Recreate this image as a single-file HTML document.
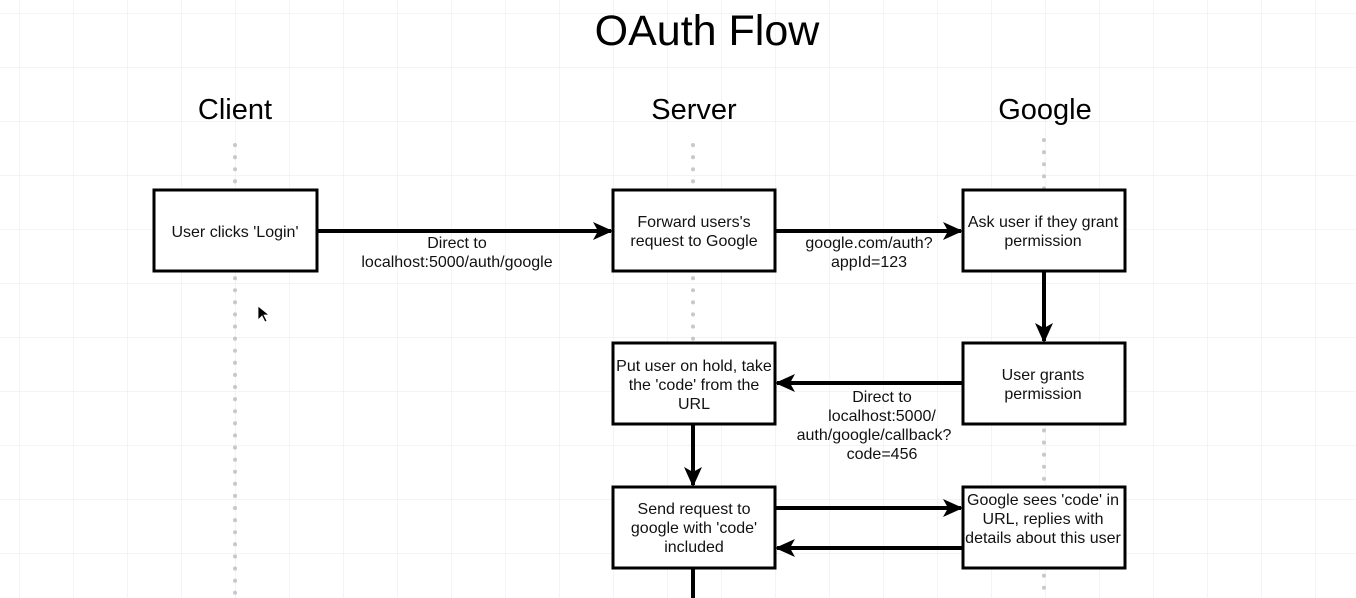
<!DOCTYPE html>
<html><head><style>
html,body{margin:0;padding:0;background:#fff;}
svg{display:block;font-family:"Liberation Sans",Arial,sans-serif;}
</style></head><body>
<svg width="1356" height="598" viewBox="0 0 1356 598" xmlns="http://www.w3.org/2000/svg">
<defs>
<pattern id="g" x="19" y="13" width="54" height="54" patternUnits="userSpaceOnUse">
<path d="M0 0H54M0 0V54" stroke="#e8e8e8" stroke-width="1" fill="none"/>
</pattern>
<marker id="A" viewBox="0 0 20 20" markerWidth="20" markerHeight="20" refX="18" refY="10" orient="auto" markerUnits="userSpaceOnUse">
<path d="M0 1L20 10L0 19L5 10Z" fill="#000"/>
</marker>
</defs>
<rect width="1356" height="598" fill="url(#g)"/>
<text x="707" y="45" font-size="43" text-anchor="middle">OAuth Flow</text>
<g font-size="29" text-anchor="middle">
<text x="235" y="119">Client</text>
<text x="694" y="119">Server</text>
<text x="1045" y="119">Google</text>
</g>
<g stroke="#c8c8c8" stroke-width="4" stroke-dasharray="0.1 12" stroke-linecap="round">
<line x1="235" y1="145" x2="235" y2="598"/>
<line x1="693" y1="145" x2="693" y2="598"/>
<line x1="1044" y1="140" x2="1044" y2="598"/>
</g>
<g fill="#fff" stroke="#000" stroke-width="3">
<rect x="154" y="190" width="163" height="81"/>
<rect x="613" y="190" width="162" height="81"/>
<rect x="963" y="190" width="162" height="81"/>
<rect x="963" y="343" width="162" height="81"/>
<rect x="613" y="343" width="162" height="81"/>
<rect x="613" y="487" width="162" height="81"/>
<rect x="963" y="487" width="162" height="81"/>
</g>
<g stroke="#000" stroke-width="4" fill="none">
<line x1="317" y1="231" x2="611" y2="231" marker-end="url(#A)"/>
<line x1="775" y1="231" x2="961" y2="231" marker-end="url(#A)"/>
<line x1="1044" y1="271" x2="1044" y2="341" marker-end="url(#A)"/>
<line x1="963" y1="383" x2="777" y2="383" marker-end="url(#A)"/>
<line x1="693" y1="424" x2="693" y2="485" marker-end="url(#A)"/>
<line x1="775" y1="508" x2="961" y2="508" marker-end="url(#A)"/>
<line x1="963" y1="548" x2="777" y2="548" marker-end="url(#A)"/>
<line x1="693" y1="568" x2="693" y2="598"/>
</g>
<g font-size="16" text-anchor="middle" fill="#111">
<text x="235" y="237">User clicks 'Login'</text>
<text x="694" y="227">Forward users's</text>
<text x="694" y="246">request to Google</text>
<text x="1043" y="227">Ask user if they grant</text>
<text x="1043" y="246">permission</text>
<text x="1043" y="380">User grants</text>
<text x="1043" y="399">permission</text>
<text x="694" y="371">Put user on hold, take</text>
<text x="694" y="390">the 'code' from the</text>
<text x="694" y="409">URL</text>
<text x="694" y="514">Send request to</text>
<text x="694" y="533">google with 'code'</text>
<text x="694" y="552">included</text>
<text x="1043" y="505">Google sees 'code' in</text>
<text x="1043" y="524">URL, replies with</text>
<text x="1043" y="543">details about this user</text>
<text x="457" y="248">Direct to</text>
<text x="457" y="267">localhost:5000/auth/google</text>
<text x="869" y="248">google.com/auth?</text>
<text x="869" y="267">appId=123</text>
<text x="882" y="402">Direct to</text>
<text x="882" y="421">localhost:5000/</text>
<text x="874" y="440">auth/google/callback?</text>
<text x="882" y="459">code=456</text>
</g>
<path d="M258 306L258 320L262 316L265 322L267 321L264 315L269 315Z" fill="#000" stroke="#fff" stroke-width="0.8"/>
</svg>
</body></html>
